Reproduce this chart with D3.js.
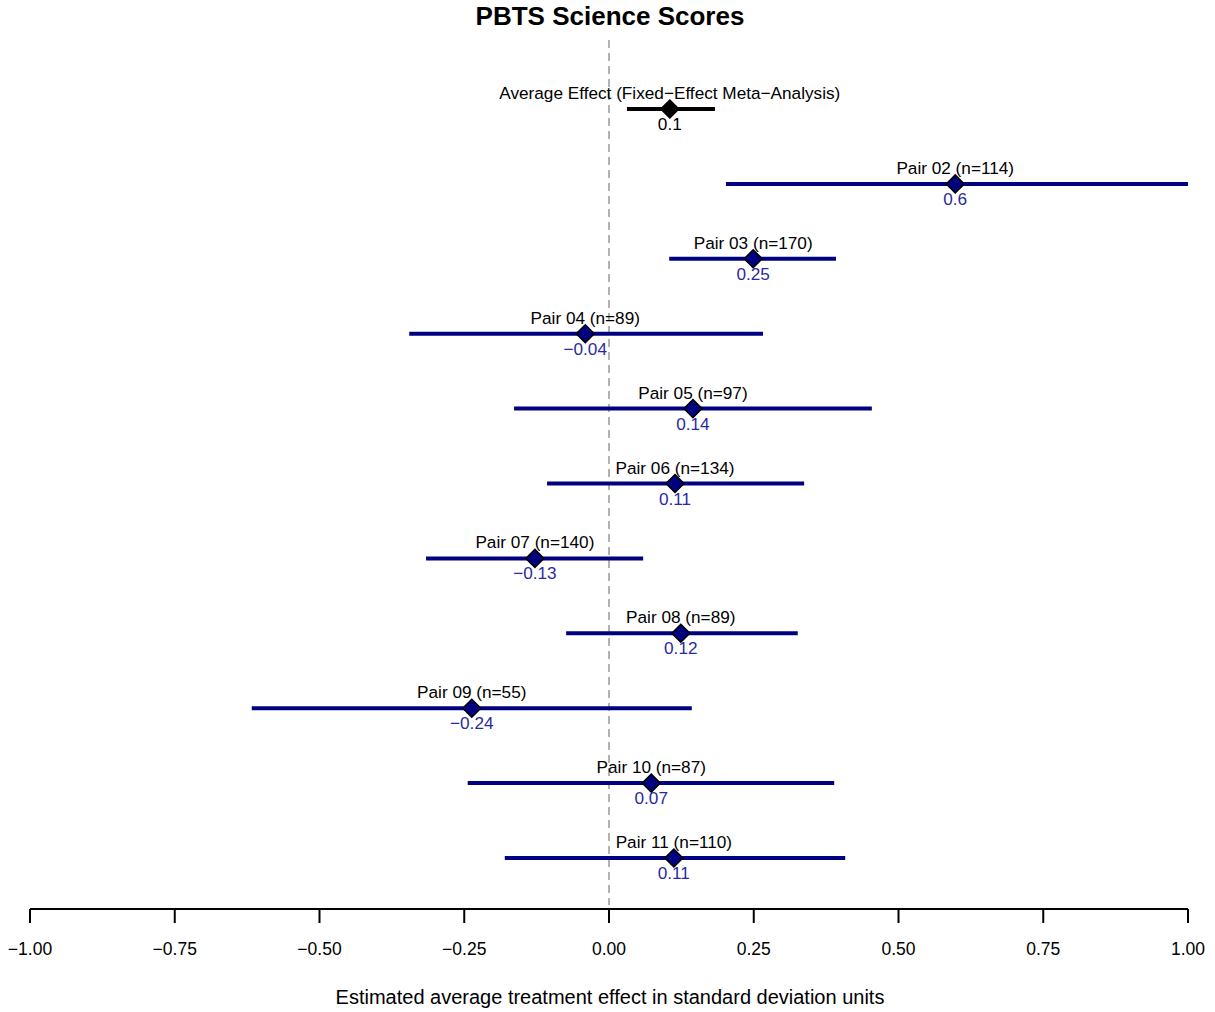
<!DOCTYPE html>
<html><head><meta charset="utf-8">
<script src="https://cdn.jsdelivr.net/npm/d3@7"></script>
<style>body{margin:0;background:#fff}svg{display:block;font-family:"Liberation Sans",Arial,sans-serif}</style>
</head><body>
<script>
const labels = ["Average Effect (Fixed\u2212Effect Meta\u2212Analysis)","Pair 02 (n=114)","Pair 03 (n=170)","Pair 04 (n=89)","Pair 05 (n=97)","Pair 06 (n=134)","Pair 07 (n=140)","Pair 08 (n=89)","Pair 09 (n=55)","Pair 10 (n=87)","Pair 11 (n=110)"];
const estimates = [0.105,0.598,0.249,-0.041,0.145,0.114,-0.128,0.124,-0.237,0.073,0.112];
const lower = [0.031,0.202,0.104,-0.345,-0.164,-0.107,-0.316,-0.074,-0.617,-0.244,-0.180];
const upper = [0.183,1.0,0.392,0.266,0.454,0.337,0.059,0.326,0.143,0.389,0.408];
const valueLabels = ["0.1","0.6","0.25","\u22120.04","0.14","0.11","\u22120.13","0.12","\u22120.24","0.07","0.11"];
const tickValues = [-1,-0.75,-0.5,-0.25,0,0.25,0.5,0.75,1];
const tickLabels = ["\u22121.00","\u22120.75","\u22120.50","\u22120.25","0.00","0.25","0.50","0.75","1.00"];

const W=1215,H=1012;
const svg=d3.select("body").append("svg").attr("width",W).attr("height",H);
const x=d3.scaleLinear().domain([-1,1]).range([30,1188]);
const y=d3.scaleLinear().domain([0,10]).range([109,858]);

svg.append("text").attr("x",610).attr("y",25).attr("text-anchor","middle")
  .attr("font-size",26).attr("font-weight","bold").text("PBTS Science Scores");

svg.append("line").attr("x1",x(0)).attr("x2",x(0)).attr("y1",40).attr("y2",905)
  .attr("stroke","#999").attr("stroke-width",1.5).attr("stroke-dasharray","8,5");

const data=labels.map((l,i)=>({l,e:estimates[i],lo:lower[i],hi:upper[i],v:valueLabels[i],i}));
const g=svg.append("g").selectAll("g").data(data).join("g");
g.append("line").attr("x1",d=>x(d.lo)).attr("x2",d=>x(Math.min(d.hi,1))).attr("y1",d=>y(d.i)).attr("y2",d=>y(d.i))
  .attr("stroke",d=>d.i===0?"#000":"#000080").attr("stroke-width",4);
g.append("path").attr("d",d=>{const cx=x(d.e),cy=y(d.i),r=9;return `M${cx},${cy-r}L${cx+r},${cy}L${cx},${cy+r}L${cx-r},${cy}Z`;})
  .attr("fill",d=>d.i===0?"#000":"#000080").attr("stroke","#000").attr("stroke-width",1.5);
g.append("text").attr("x",d=>x(d.e)).attr("y",d=>y(d.i)-10).attr("text-anchor","middle")
  .attr("font-size",17.2).attr("fill","#000").text(d=>d.l);
g.append("text").attr("x",d=>x(d.e)).attr("y",d=>y(d.i)+21).attr("text-anchor","middle")
  .attr("font-size",17.2).attr("fill",d=>d.i===0?"#000":"#2a2aa0").text(d=>d.v);

const ax=svg.append("g").attr("transform","translate(0,909)");
ax.append("line").attr("x1",x(-1)).attr("x2",x(1)).attr("stroke","#000").attr("stroke-width",2);
ax.selectAll("line.t").data(tickValues).join("line").attr("class","t")
  .attr("x1",d=>x(d)).attr("x2",d=>x(d)).attr("y1",0).attr("y2",14).attr("stroke","#000").attr("stroke-width",2);
ax.selectAll("text").data(tickValues).join("text").attr("x",d=>x(d)).attr("y",46)
  .attr("text-anchor","middle").attr("font-size",17.5).text((d,i)=>tickLabels[i]);

svg.append("text").attr("x",610).attr("y",1004).attr("text-anchor","middle").attr("font-size",20)
  .text("Estimated average treatment effect in standard deviation units");
</script>
</body></html>
